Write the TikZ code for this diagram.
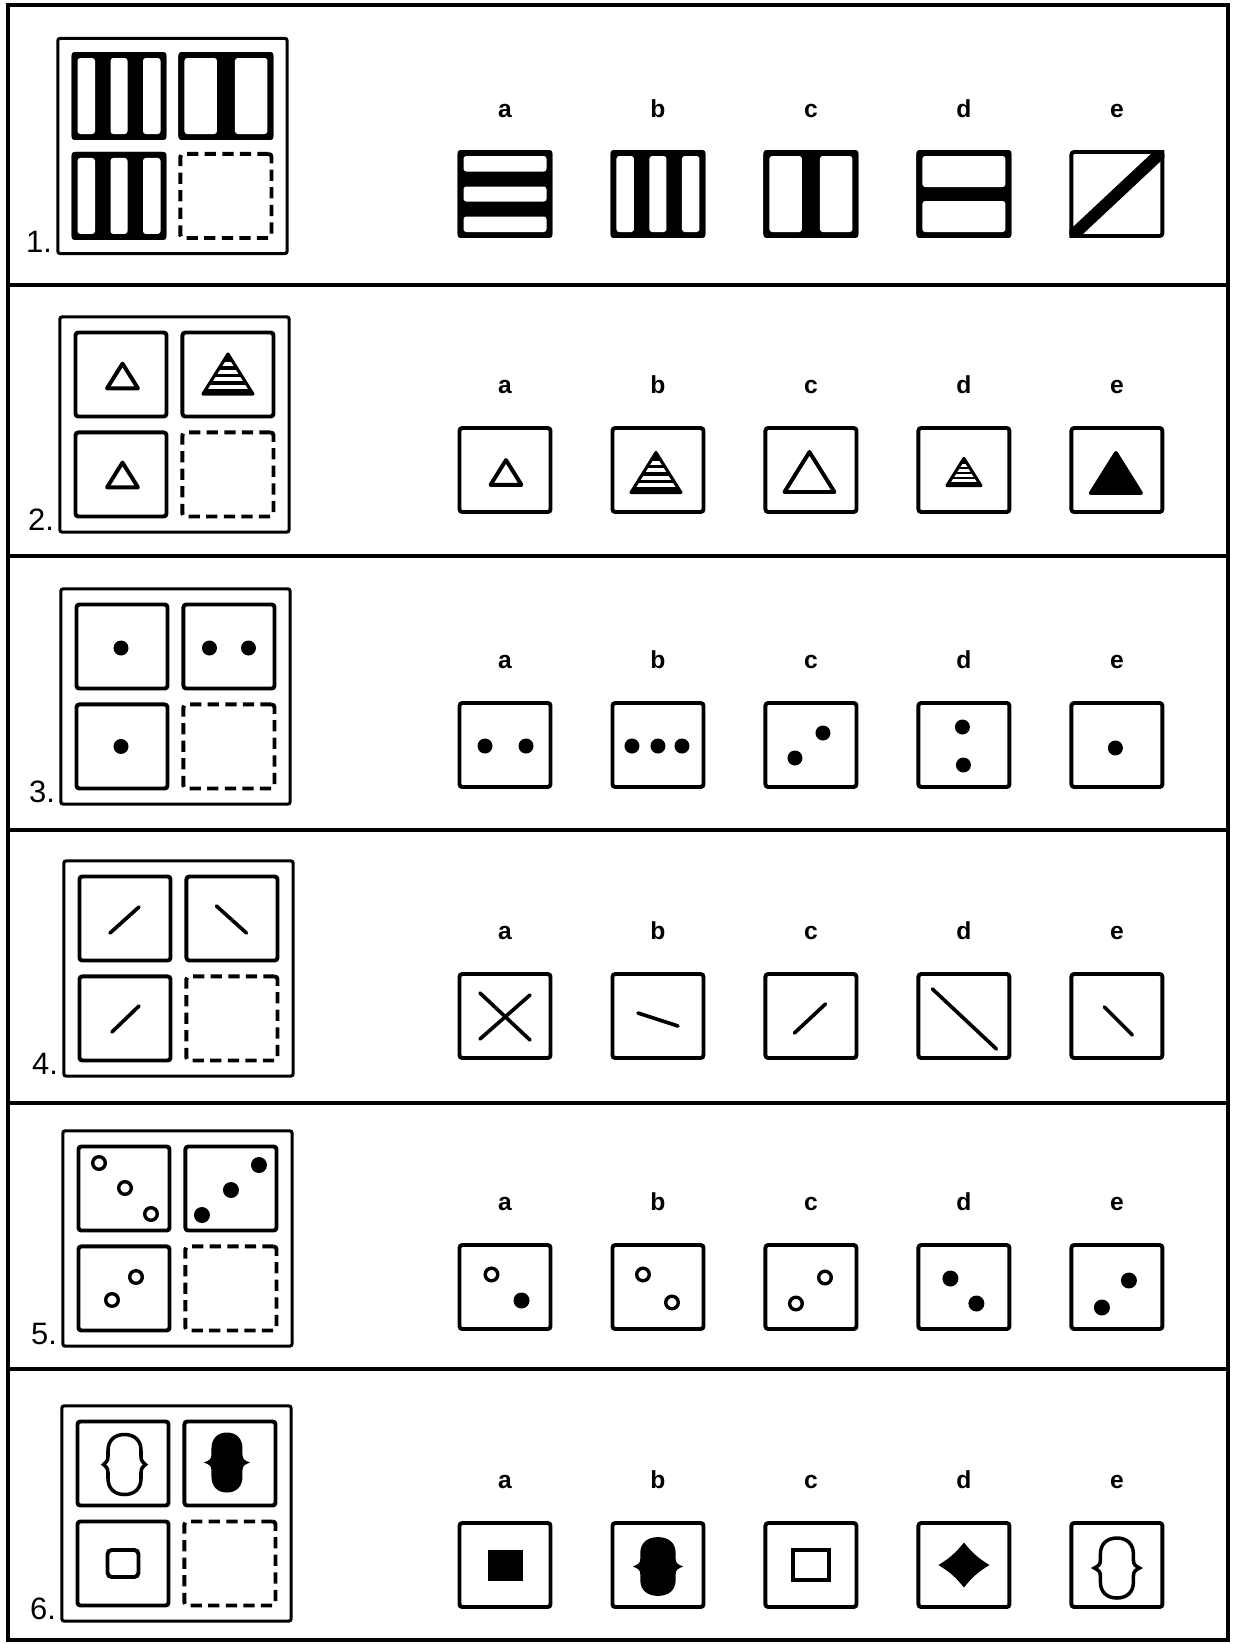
\documentclass[tikz,border=0pt]{standalone}
\usepackage{fontspec}
\setmainfont{Liberation Sans}
\usetikzlibrary{positioning,fit,calc}

\begin{document}
\begin{tikzpicture}[
        x=0.025cm, y=-0.025cm,
        node distance=0.3cm,
        rule/.style={line width=2.3pt},
        board/.style={draw, line width=2.2pt, rounded corners=1.5pt, inner sep=0.34cm},
        cell/.style={draw, line width=2.8pt, rounded corners=2pt, minimum width=2.275cm, minimum height=2.1cm, inner sep=0pt},
        blank/.style={cell, dash pattern=on 8pt off 4.5pt},
        letter/.style={font=\bfseries\fontsize{17.5}{17.5}\selectfont, inner sep=0pt, text depth=0pt},
        num/.style={font=\fontsize{22}{22}\selectfont, inner sep=0pt},
        ring/.style={draw, line width=2.4pt},
        slash/.style={line width=2.6pt, line cap=round},
        trio/.style={line width=2.8pt, line join=round},
        flare/.initial=21,
        tri/.pic={\path[pic actions] (0,-20) -- (25,20) -- (-25,20) -- cycle;},
        stripedtri/.pic={
            \fill (0,-20) -- (25,20) -- (-25,20) -- cycle;
            \begin{scope}
                \clip (0,-20) -- (25,20) -- (-25,20) -- cycle;
                \foreach \s in {-12,-4.5,3,10.5}
                    \fill[white] (-30,\s) rectangle (30,\s+4.2);
            \end{scope}
            \draw[line width=2.2pt, line join=round] (0,-20) -- (25,20) -- (-25,20) -- cycle;
        },
        peanut/.pic={
            \pgfmathsetmacro\fl{\pgfkeysvalueof{/tikz/flare}}
            \path[pic actions] (0,-30) .. controls (-10,-30) and (-16.5,-24) .. (-16.5,-14)
                -- (-16.5,-8) .. controls (-16.5,-3) and (-19,-2) .. (-\fl,0)
                .. controls (-19,2) and (-16.5,3) .. (-16.5,8)
                -- (-16.5,14) .. controls (-16.5,24) and (-10,30) .. (0,30)
                .. controls (10,30) and (16.5,24) .. (16.5,14)
                -- (16.5,8) .. controls (16.5,3) and (19,2) .. (\fl,0)
                .. controls (19,-2) and (16.5,-3) .. (16.5,-8)
                -- (16.5,-14) .. controls (16.5,-24) and (10,-30) .. (0,-30) -- cycle;
        }
    ]
        \useasboundingbox (0,0) rectangle (1232,1644);

        % Frame and rows
        \draw[rule] (8,5) rectangle (1228,1640);
        \foreach \y in {285,556,830,1103,1369}
            \draw[rule] (8,\y) -- (1228,\y);

        % Boards
        \foreach \n/\x/\y in {1/119/96, 2/121/374.5, 3/122/646.5, 4/125/918.5, 5/124/1188.5, 6/123/1463.5} {
            \node[cell] (tl\n) at (\x,\y) {};
            \node[cell, right=of tl\n] (tr\n) {};
            \node[cell, below=of tl\n] (bl\n) {};
            \node[blank, right=of bl\n] (br\n) {};
            \node[board, fit=(tl\n)(br\n)] (board\n) {};
            \node[num, base left=3pt of board\n.south west, yshift=2pt] (n\n) {\n.};
        }

        % Answers
        \foreach \n/\y in {1/194, 2/470, 3/745, 4/1016, 5/1287, 6/1565} {
            \node[cell] (a\n) at (505,\y) {};
            \node[cell, right=1.45cm of a\n] (b\n) {};
            \node[cell, right=1.45cm of b\n] (c\n) {};
            \node[cell, right=1.45cm of c\n] (d\n) {};
            \node[cell, right=1.45cm of d\n] (e\n) {};
            \foreach \l in {a,b,c,d,e}
                \node[letter, above=0.8cm of \l\n] (t\l\n) {\l};
        }

        % 1: bars
        \foreach \c in {tl1, bl1, b1} {
            \fill[rounded corners=2pt] (\c.south west) rectangle (\c.north east);
            \foreach \u/\v in {-41.5/-24, -8.5/8.5, 24/41.5}
                \fill[white, rounded corners=2pt] ($(\c)+(\u,-38)$) rectangle ($(\c)+(\v,38)$);
        }
        \foreach \c in {tr1, c1} {
            \fill[rounded corners=2pt] (\c.south west) rectangle (\c.north east);
            \foreach \u/\v in {-41.5/-9, 9/41.5}
                \fill[white, rounded corners=2pt] ($(\c)+(\u,-38)$) rectangle ($(\c)+(\v,38)$);
        }
        \fill[rounded corners=2pt] (a1.south west) rectangle (a1.north east);
        \foreach \u/\v in {-38/-22.5, -7.5/7.5, 22.5/38}
            \fill[white, rounded corners=2pt] ($(a1)+(-41.5,\u)$) rectangle ($(a1)+(41.5,\v)$);
        \fill[rounded corners=2pt] (d1.south west) rectangle (d1.north east);
        \foreach \u/\v in {-38/-7, 7/38}
            \fill[white, rounded corners=2pt] ($(d1)+(-41.5,\u)$) rectangle ($(d1)+(41.5,\v)$);
        \begin{scope}
            \clip (e1.south west) rectangle (e1.north east);
            \draw[line width=0.3cm] ($(e1)+(-47,44)$) -- ($(e1)+(47,-44)$);
        \end{scope}

        % 2: triangles
        \pic[draw, trio, scale=0.62] at ($(tl2)+(1.5,1.5)$) {tri};
        \pic at ($(tr2)+(0,-0.5)$) {stripedtri};
        \pic[draw, trio, scale=0.62] at ($(bl2)+(1.5,0.5)$) {tri};
        \pic[draw, trio, scale=0.62] at ($(a2)+(1,2.5)$) {tri};
        \pic at ($(b2)+(-2,2.5)$) {stripedtri};
        \pic[draw, trio] at ($(c2)+(-1.5,2)$) {tri};
        \pic[scale=0.68] at ($(d2)+(0,2)$) {stripedtri};
        \pic[draw, fill, trio] at ($(e2)+(-1,3)$) {tri};

        % 3: dots
        \foreach \c/\px/\py in {tl3/-1/1.5, tr3/-19.5/1.5, tr3/19.5/1.5, bl3/-1/0, a3/-20/1, a3/21/1, b3/-26/1, b3/0/1, b3/24/1, c3/-16/13, c3/12/-12, d3/-1.5/-18, d3/-0.5/20, e3/-1.5/3}
            \fill ($(\c)+(\px,\py)$) circle (7.5);

        % 4: strokes
        \foreach \c/\ax/\ay/\bx/\by in {tl4/-15/14.5/14/-11.5, tr4/-15.5/-12.5/14.5/14.5, bl4/-13/13.5/14/-12.5, a4/-25/-23/25/24, a4/25/-21/-25/23, b4/-20/-3/20/10, c4/-16.5/17/14.5/-12, d4/-31.5/-27/32.5/33, e4/-12.5/-9/15.5/19}
            \draw[slash] ($(\c)+(\ax,\ay)$) -- ($(\c)+(\bx,\by)$);

        % 5: rings and dots
        \foreach \c/\px/\py in {tl5/-25/-25.5, tl5/1/-0.5, tl5/27/25.5, bl5/12/-11.5, bl5/-12/11.5, a5/-13.5/-12.5, b5/-15/-12.5, b5/14/15.5, c5/-15/16.5, c5/14/-9.5}
            \draw[ring] ($(\c)+(\px,\py)$) circle (6.3);
        \foreach \c/\px/\py in {tr5/28/-23.5, tr5/0/1.5, tr5/-29/26.5, a5/16.5/13.5, d5/-13.5/-8.5, d5/12.5/16.5, e5/-15/20.5, e5/12/-6.5}
            \fill ($(\c)+(\px,\py)$) circle (8);

        % 6: shapes
        \pic[draw, line width=2.5pt] at ($(tl6)+(1.5,1)$) {peanut};
        \pic[fill, flare=24.5, xscale=0.94] at ($(tr6)+(-3,-1)$) {peanut};
        \draw[line width=2.8pt, rounded corners=3pt] ($(bl6)+(-15.5,-13.5)$) rectangle ($(bl6)+(15.5,13.5)$);
        \fill ($(a6)+(-17.5,-15.5)$) rectangle ($(a6)+(17.5,15.5)$);
        \pic[fill, flare=23.5, xscale=1.07, yscale=0.98] at ($(b6)+(0,1.5)$) {peanut};
        \draw[line width=2.2pt] ($(c6)+(-18,-15)$) rectangle ($(c6)+(18,15)$);
        \begin{scope}[shift={(d6)}]
            \fill (0,-22.5) to[bend right=10] (25.5,0) to[bend right=10] (0,22.5)
                to[bend right=10] (-25.5,0) to[bend right=10] (0,-22.5) -- cycle;
        \end{scope}
        \pic[draw, line width=2.5pt, flare=22.5] at ($(e6)+(0,3)$) {peanut};
    \end{tikzpicture}
\end{document}
